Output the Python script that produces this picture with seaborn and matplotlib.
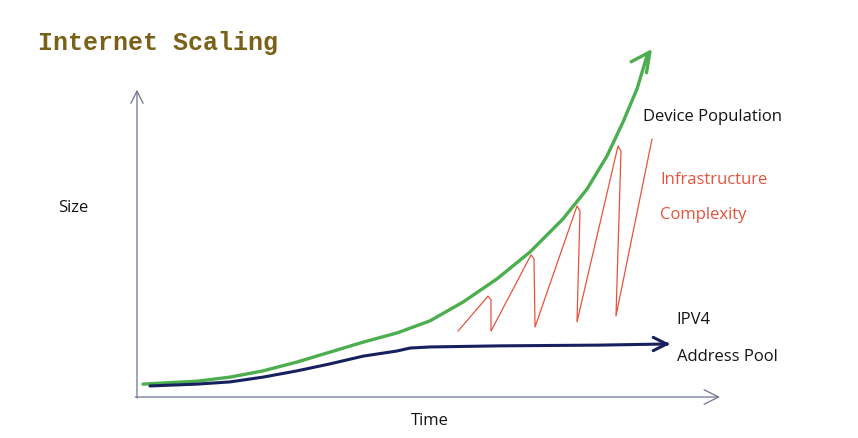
import matplotlib
matplotlib.use("Agg")
import numpy as np
import pandas as pd
import seaborn as sns
import matplotlib.pyplot as plt

# values (time 0-100, size 0-100)
device_time = [1.03, 10.29, 15.95, 21.61, 27.44, 33.10, 38.77, 44.60, 50.26, 55.92,
               61.75, 67.41, 73.07, 77.19, 80.62, 83.36, 85.76, 87.48, 88.34]
device_size = [3.5, 4.3, 5.4, 7.1, 9.5, 12.2, 14.9, 17.4, 20.7, 25.8,
               32.1, 39.4, 48.4, 56.5, 65.5, 74.7, 83.7, 92.7, 94.6]

pool_time = [2.23, 10.29, 15.95, 21.61, 27.44, 33.10, 38.77, 44.60, 46.83, 50.26,
             62.26, 79.42, 90.57, 91.42]
pool_size = [3.0, 3.5, 4.1, 5.4, 7.1, 9.0, 11.1, 12.5, 13.3, 13.6,
             13.9, 14.1, 14.4, 14.4]

infra_time = [55.06,
              60.21, 60.72, 60.72,
              67.58, 68.10, 68.27,
              75.47, 75.99, 75.47,
              82.50, 83.02, 82.16,
              88.34]
infra_size = [17.9,
              27.4, 26.4, 17.9,
              38.6, 37.5, 19.0,
              51.9, 50.5, 20.4,
              68.2, 66.8, 22.0,
              70.1]

GREEN = "#4cae4f"
NAVY = "#16205e"
RED = "#e6533d"
AXIS = "#6b7391"
INK = "#141414"

sns.set_theme(style="white")
plt.rcParams["font.family"] = ["Open Sans", "DejaVu Sans"]

fig = plt.figure(figsize=(8.58, 4.39), dpi=100)
ax = fig.add_axes([137 / 858, 41 / 439, 583 / 858, 368 / 439])
ax.set_xlim(0, 100)
ax.set_ylim(0, 100)
ax.axis("off")

device = pd.DataFrame({"time": device_time, "size": device_size})
pool = pd.DataFrame({"time": pool_time, "size": pool_size})
infra = pd.DataFrame({"time": infra_time, "size": infra_size})

sns.lineplot(data=infra, x="time", y="size", sort=False, estimator=None,
             color=RED, lw=0.9, ax=ax, solid_joinstyle="round")
sns.lineplot(data=device.iloc[:-1], x="time", y="size", sort=False, estimator=None,
             color=GREEN, lw=2.4, ax=ax, solid_capstyle="round", solid_joinstyle="round")
sns.lineplot(data=pool.iloc[:-1], x="time", y="size", sort=False, estimator=None,
             color=NAVY, lw=2.2, ax=ax, solid_capstyle="round", solid_joinstyle="round")

# arrow heads on the curves
ax.annotate("", xy=(device_time[-1], device_size[-1]),
            xytext=(device_time[-2], device_size[-2]),
            arrowprops=dict(arrowstyle="->", color=GREEN, lw=2.4, mutation_scale=34,
                            shrinkA=0, shrinkB=0))
ax.annotate("", xy=(pool_time[-1], pool_size[-1]),
            xytext=(pool_time[-2], pool_size[-2]),
            arrowprops=dict(arrowstyle="->", color=NAVY, lw=2.2, mutation_scale=24,
                            shrinkA=0, shrinkB=0))

# axes drawn as hand-style arrows
ax.annotate("", xy=(0, 83.5), xytext=(0, -0.3),
            arrowprops=dict(arrowstyle="->", color=AXIS, lw=0.9, mutation_scale=22,
                            shrinkA=0, shrinkB=0))
ax.annotate("", xy=(100, 0), xytext=(-0.3, 0),
            arrowprops=dict(arrowstyle="->", color=AXIS, lw=0.9, mutation_scale=26,
                            shrinkA=0, shrinkB=0))

hand = dict(fontsize=12)
ax.text(86.8, 76.4, "Device Population", color=INK, va="center", **hand)
ax.text(89.7, 59.2, "Infrastructure", color=RED, va="center", **hand)
ax.text(89.7, 49.7, "Complexity", color=RED, va="center", **hand)
ax.text(92.6, 21.2, "IPV4", color=INK, va="center", **hand)
ax.text(92.6, 11.1, "Address Pool", color=INK, va="center", **hand)
ax.text(-11, 51.6, "Size", color=INK, va="center", ha="center", **hand)
ax.text(50.3, -6.2, "Time", color=INK, va="center", ha="center", **hand)

fig.text(38 / 858, 1 - 43 / 439, "Internet Scaling", color="#7a6117",
         fontsize=18, fontweight="bold", family=["Liberation Mono", "DejaVu Sans Mono"],
         va="center", ha="left")

fig.savefig("out.png", dpi=100, facecolor="white")
